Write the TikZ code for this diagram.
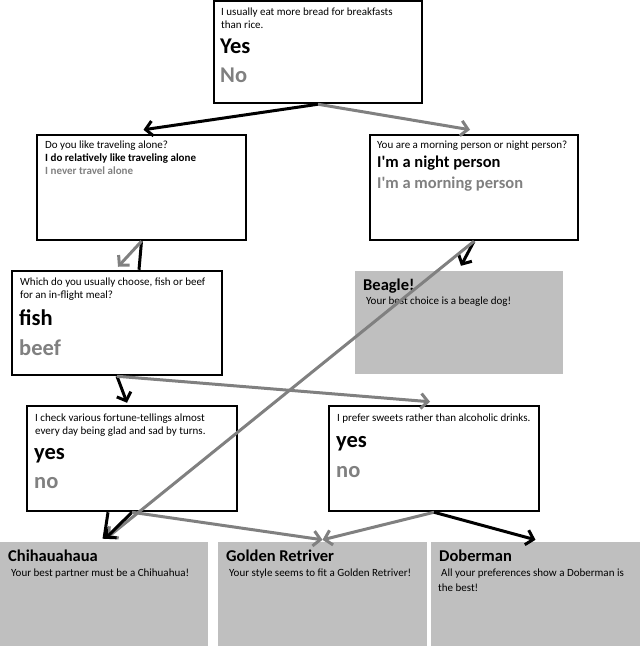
\documentclass[tikz,border=0pt]{standalone}
\usepackage{fontspec}
\setmainfont{Carlito}
\newfontfamily\carlnolig{Carlito}[Ligatures=TeXOff]
\usetikzlibrary{arrows.meta}
\definecolor{grayline}{HTML}{808080}
\definecolor{grayfill}{HTML}{BFBFBF}
\begin{document}
\begin{tikzpicture}[x=1pt,y=-1pt,
  qbox/.style={draw=black, line width=2.5pt, fill=white, inner sep=0pt, rectangle},
  rbox/.style={fill=grayfill, inner sep=0pt, rectangle},
  txt/.style={anchor=base west, inner sep=0pt, font=\fontsize{11}{13}\selectfont},
  txtb/.style={anchor=base west, inner sep=0pt, font=\bfseries\fontsize{11}{13}\selectfont},
  txtg/.style={txtb, text=grayline},
  big/.style={anchor=base west, inner sep=0pt, font=\bfseries\fontsize{22.5}{26}\selectfont},
  bigg/.style={big, text=grayline},
  mid/.style={anchor=base west, inner sep=0pt, font=\bfseries\fontsize{16.5}{19}\selectfont},
  midg/.style={mid, text=grayline},
  ya/.style={draw=black, line width=3pt, -{Straight Barb[length=7pt,width=15pt]}},
  na/.style={draw=grayline, line width=3pt, -{Straight Barb[length=7pt,width=15pt]}},
  yl/.style={draw=black, line width=3pt},
]
\useasboundingbox (0,0) rectangle (643,648);

% boxes
\node[qbox, minimum width=208pt, minimum height=102pt] (q1) at (318,52) {};
\node[qbox, minimum width=209pt, minimum height=105pt] (q2) at (141.5,187.5) {};
\node[qbox, minimum width=208pt, minimum height=105pt] (q3) at (474,187.5) {};
\node[qbox, minimum width=210pt, minimum height=104pt] (q4) at (117,323) {};
\node[rbox, minimum width=208pt, minimum height=103pt] (beagle) at (459,322.5) {};
\node[qbox, minimum width=210pt, minimum height=105pt] (q5) at (132,458.5) {};
\node[qbox, minimum width=210pt, minimum height=105pt] (q6) at (434,458.5) {};
\node[rbox, minimum width=208pt, minimum height=104pt] (chi) at (104,594) {};
\node[rbox, minimum width=209pt, minimum height=104pt] (gold) at (322.5,594) {};
\node[rbox, minimum width=209pt, minimum height=104pt] (dob) at (535.5,594) {};

% texts
\node[txt] (q1a) at (221,15) {I usually eat more bread for breakfasts};
\node[txt] (q1b) at (221,28) {than rice.};
\node[big] (q1y) at (220,53) {Yes};
\node[bigg] (q1n) at (220,82) {No};

\node[txt] (q2a) at (45,148) {Do you like traveling alone?};
\node[txtb] (q2y) at (45,161) {I do relatively like traveling alone};
\node[txtg] (q2n) at (45,174) {I never travel alone};

\node[txt] (q3a) at (377,148) {You are a morning person or night person?};
\node[mid] (q3y) at (377,167) {\carlnolig I'm a night person};
\node[midg] (q3n) at (377,188) {\carlnolig I'm a morning person};

\node[txt] (q4a) at (20,285) {Which do you usually choose, fish or beef};
\node[txt] (q4b) at (20,298) {for an in-flight meal?};
\node[big] (q4y) at (19,325) {fish};
\node[bigg] (q4n) at (19,355) {beef};

\node[mid] (bt) at (363,290) {Beagle!};
\node[txt] (bd) at (366,304) {Your best choice is a beagle dog!};

\node[txt] (q5a) at (35,421) {I check various fortune-tellings almost};
\node[txt] (q5b) at (35,434) {every day being glad and sad by turns.};
\node[big] (q5y) at (34,459) {yes};
\node[bigg] (q5n) at (34,488) {no};

\node[txt] (q6a) at (337,421) {I prefer sweets rather than alcoholic drinks.};
\node[big] (q6y) at (336,447) {yes};
\node[bigg] (q6n) at (336,477) {no};

\node[mid] (ct) at (8,561) {Chihauahaua};
\node[txt] (cd) at (11,576) {Your best partner must be a Chihuahua!};
\node[mid] (gt) at (226,561) {Golden Retriver};
\node[txt] (gd) at (229,576) {Your style seems to fit a Golden Retriver!};
\node[mid] (dt) at (439,561) {Doberman};
\node[txt] (dd) at (441,576) {All your preferences show a Doberman is};
\node[txt] (dd2) at (438,591) {the best!};

% connectors
\draw[ya] (q1.south) -- ([xshift=2pt,yshift=4pt]q2.north);
\draw[na] (q1.south) -- ([xshift=-4pt,yshift=4pt]q3.north);

\draw[yl] (q2.south) -- ([xshift=22pt]q4.north);
\draw[na] (q2.south) -- ([xshift=1pt,yshift=3pt]q4.north);

\draw[ya] (q3.south) -- ([xshift=2pt,yshift=5pt]beagle.north);
\draw[na] (q3.south) -- ([xshift=3pt,yshift=4pt]chi.north);

\draw[ya] (q4.south) -- ([xshift=-5pt,yshift=2pt]q5.north);
\draw[na] (q4.south) -- ([xshift=-4pt,yshift=3pt]q6.north);

\draw[yl] ([xshift=-24pt]q5.south) -- ([xshift=0pt,yshift=3pt]chi.north);
\draw[ya] (q5.south) -- ([xshift=1pt,yshift=3pt]chi.north);
\draw[na] (q5.south) -- ([yshift=2pt]gold.north);

\draw[na] (q6.south) -- ([yshift=2pt]gold.north);
\draw[ya] (q6.south) -- ([yshift=2pt]dob.north);
\end{tikzpicture}
\end{document}
